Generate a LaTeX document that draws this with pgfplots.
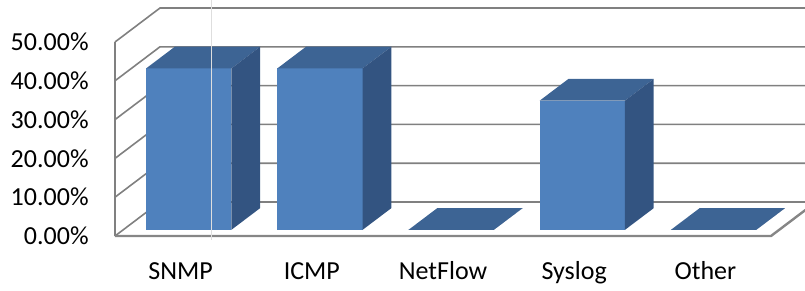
\documentclass[border=0pt]{standalone}
\usepackage{pgfplots}
\pgfplotsset{compat=1.18}
\usepackage{pgfplotstable}
\usepackage{fontspec}
\setmainfont{Carlito}
\definecolor{barfront}{HTML}{4F81BD}
\definecolor{bartop}{HTML}{3D6494}
\definecolor{barside}{HTML}{335481}
\definecolor{gridc}{HTML}{808080}
\definecolor{floorc}{HTML}{868686}

\pgfplotstableread{
idx v
0 41.6
1 41.6
2 0
3 33.3
4 0
}\datatable

\begin{document}
\begin{tikzpicture}
\begin{axis}[
  anchor=origin, at={(0pt,0pt)},
  x={(65.6pt,0pt)}, y={(22.5pt,17pt)}, z={(0pt,1.94pt)},
  xmin=-0.5, xmax=4.5, ymin=0, ymax=1, zmin=0, zmax=50,
  hide axis, clip=false,
]
\pgfplotsinvokeforeach{0,10,20,30,40,50}{
  \draw[gridc, line width=0.8pt] (axis cs:-0.5,0,#1) -- (axis cs:-0.5,1,#1) -- (axis cs:4.5,1,#1);
}
\draw[gridc, line width=0.8pt] (axis cs:-0.5,0,0) -- (axis cs:-0.5,0,50);
\draw[floorc, line width=1.2pt] (axis cs:-0.5,0,0) -- (axis cs:4.5,0,0) -- (axis cs:4.5,1,0);
\pgfplotsinvokeforeach{0,...,4}{
  \pgfplotstablegetelem{#1}{v}\of\datatable
  \let\val\pgfplotsretval
  \pgfmathsetmacro\xl{#1-0.325}
  \pgfmathsetmacro\xr{#1+0.325}
  \edef\temp{%
    \noexpand\addplot3[fill=barfront, draw=none] coordinates {(\xl,0.18,0) (\xr,0.18,0) (\xr,0.18,\val) (\xl,0.18,\val)} --cycle;
    \noexpand\addplot3[fill=bartop, draw=none] coordinates {(\xl,0.18,\val) (\xr,0.18,\val) (\xr,0.82,\val) (\xl,0.82,\val)} --cycle;
    \noexpand\addplot3[fill=barside, draw=none] coordinates {(\xr,0.18,0) (\xr,0.82,0) (\xr,0.82,\val) (\xr,0.18,\val)} --cycle;
  }%
  \temp
}
\end{axis}
\begin{axis}[
  anchor=origin, at={(0pt,0pt)},
  x={(65.6pt,0pt)}, y={(0pt,1.94pt)},
  xmin=-0.5, xmax=4.5, ymin=0, ymax=50,
  axis line style={draw=none}, major tick length=0pt,
  xtick={0,...,4}, xticklabels={SNMP,ICMP,NetFlow,Syslog,Other},
  ytick={0,10,...,50}, yticklabels={0.00\%,10.00\%,20.00\%,30.00\%,40.00\%,50.00\%},
  tick label style={font=\fontsize{13}{15}\selectfont},
  yticklabel style={anchor=east, inner sep=0pt, xshift=-13pt},
  xticklabel style={anchor=base, inner sep=0pt, yshift=-21.5pt},
  clip=false,
]
\draw[color=black!13, line width=0.5pt] (axis cs:0.2393,-1) -- (axis cs:0.2393,61);
\end{axis}
\pgfresetboundingbox
\path[use as bounding box] (-90.3pt,-27pt) rectangle (312.2pt,118pt);
\end{tikzpicture}
\end{document}
